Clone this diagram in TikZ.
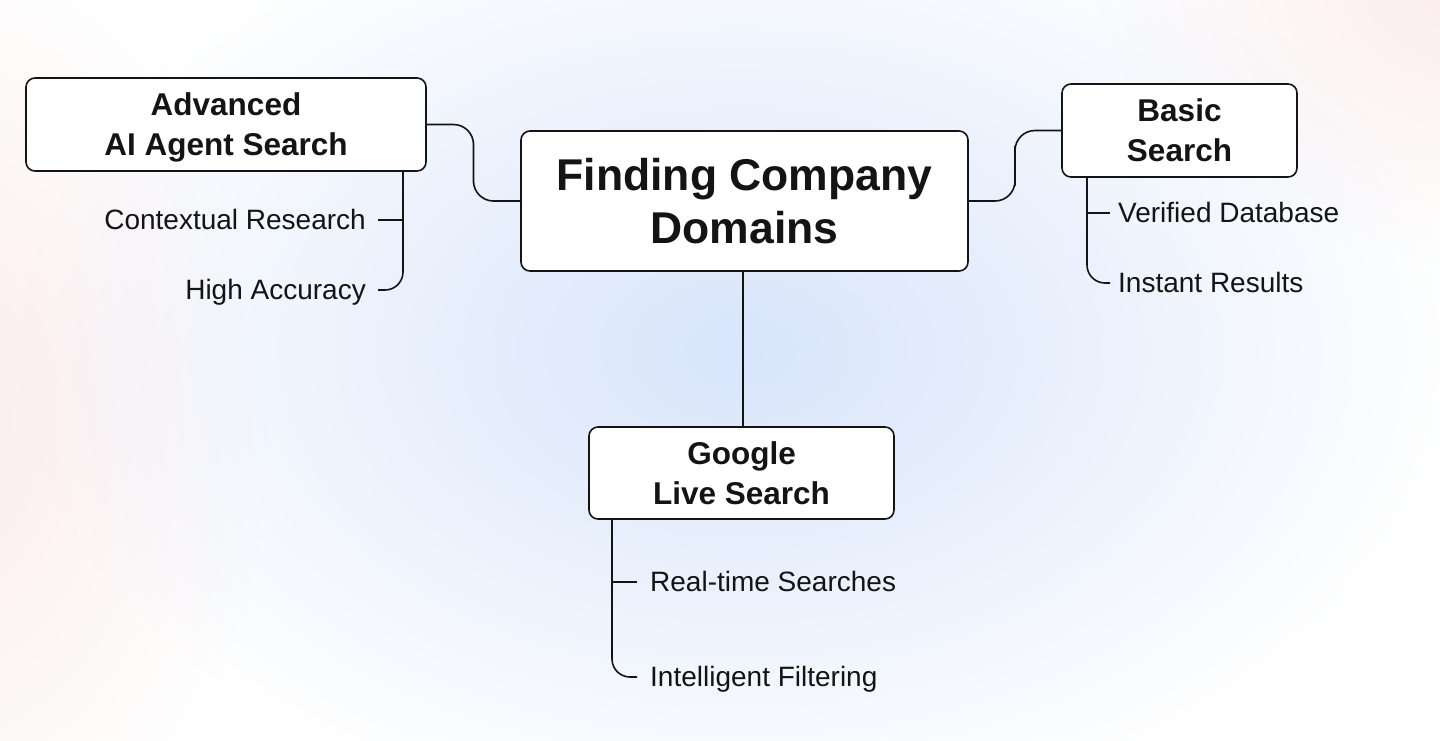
\documentclass[tikz,border=0pt]{standalone}
\usepackage{fontspec}
\setmainfont{Liberation Sans}
\usetikzlibrary{fadings,calc}
\tikzfading[name=softblob, inner color=transparent!0, outer color=transparent!100]
\definecolor{bluebg}{RGB}{216,229,251}
\definecolor{pinkbg}{RGB}{252,236,236}
\definecolor{ink}{RGB}{20,20,20}
\tikzset{
  box/.style={draw=ink, line width=1.6pt, rounded corners=9pt, fill=white, align=center, text=ink, inner sep=0pt, text depth=0pt},
  boxfont/.style={font=\fontsize{31.5}{40}\selectfont\bfseries},
  leaf/.style={font=\fontsize{28}{32}\selectfont, text=ink, inner sep=0pt, text height=19pt, text depth=0pt},
  link/.style={draw=ink, line width=1.6pt},
}
\begin{document}
\begin{tikzpicture}[x=1pt,y=-1pt]
\useasboundingbox (0,0) rectangle (1440,740);
\fill[white] (0,0) rectangle (1440,740);
\begin{scope}
  \clip (0,0) rectangle (1440,740);
  \fill[pinkbg, path fading=softblob] (-60,420) ellipse (330 and 480);
  \fill[pinkbg, path fading=softblob] (1480,-20) ellipse (380 and 280);
  \fill[bluebg, path fading=softblob] (740,350) ellipse (720 and 480);
\end{scope}

% main boxes
\node[box, minimum width=447pt, minimum height=140pt, font=\fontsize{44.5}{53}\selectfont\bfseries] (central) at (744.5,201) {Finding Company\\Domains};
\node[box, boxfont, minimum width=400pt, minimum height=93pt] (adv) at (226,124.5) {Advanced\\AI Agent Search};
\node[box, boxfont, minimum width=235pt, minimum height=93pt] (basic) at (1179.5,130.5) {Basic\\Search};
\node[box, boxfont, minimum width=305pt, minimum height=92pt] (google) at (741.5,473) {Google\\Live Search};

% connectors between boxes
\draw[link, rounded corners=20pt] (adv.east) -| ($(adv.east)!0.5!(central.west)$) |- (central.west);
\draw[link, rounded corners=20pt] (central.east) -| ($(central.east)!0.5!(basic.west)$) |- (basic.west);
\draw[link] (central.south -| 743,0) -- (google.north -| 743,0);

% leaves: Advanced
\coordinate (advtrunk) at (403,171);
\node[leaf, anchor=east] (ctx) at (366,220) {Contextual Research};
\node[leaf, anchor=east] (hacc) at (366,290) {High Accuracy};
\draw[link] ([xshift=12pt]ctx.east) -- (ctx.east -| advtrunk);
\draw[link, rounded corners=18pt] (advtrunk) |- ([xshift=12pt]hacc.east);

% leaves: Basic
\coordinate (bastrunk) at (1087,177);
\node[leaf, anchor=west] (ver) at (1118,213) {Verified Database};
\node[leaf, anchor=west] (inst) at (1118,283) {Instant Results};
\draw[link] (bastrunk |- ver.west) -- ([xshift=-8pt]ver.west);
\draw[link, rounded corners=18pt] (bastrunk) |- ([xshift=-8pt]inst.west);

% leaves: Google
\coordinate (gootrunk) at (612,519);
\node[leaf, anchor=west] (rts) at (650,582) {Real-time Searches};
\node[leaf, anchor=west] (ifl) at (650,677) {Intelligent Filtering};
\draw[link] (gootrunk |- rts.west) -- ([xshift=-13pt]rts.west);
\draw[link, rounded corners=18pt] (gootrunk) |- ([xshift=-13pt]ifl.west);
\end{tikzpicture}
\end{document}
